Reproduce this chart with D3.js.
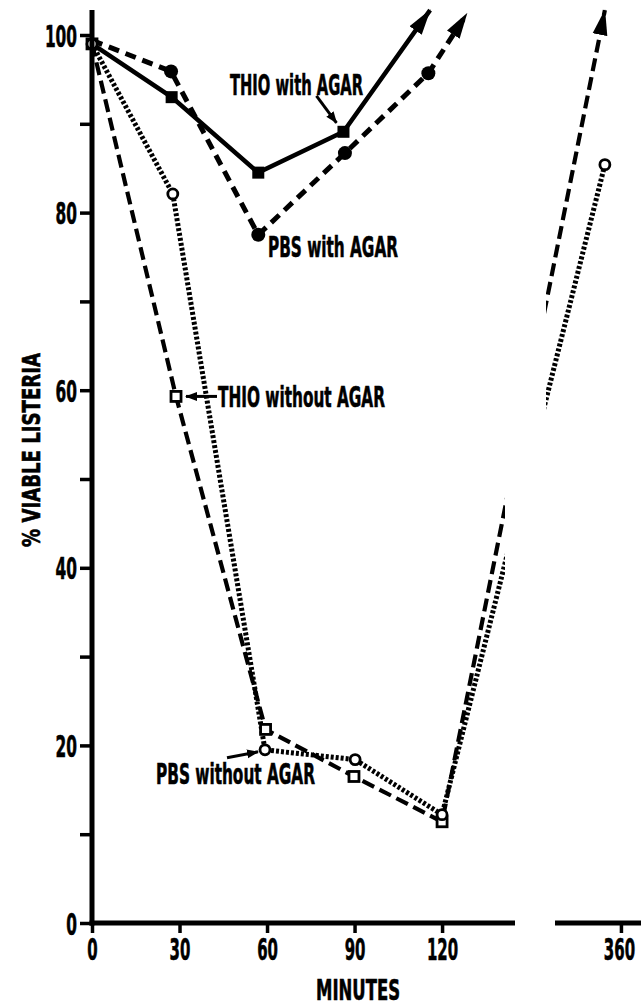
<!DOCTYPE html>
<html>
<head>
<meta charset="utf-8">
<script src="https://cdn.jsdelivr.net/npm/d3@7"></script>
<style>
  body { margin: 0; background: #fff; }
  svg text { font-family: "Liberation Sans Narrow", "DejaVu Sans Condensed", "Liberation Sans", sans-serif; font-weight: bold; fill: #000; stroke: #000; stroke-width: 0.6; }
</style>
</head>
<body>
<svg id="chart" width="641" height="1006"></svg>
<script>
// values (minutes, % viable)
var thioAgarMin = [0, 27.3, 57, 86.2];
var thioAgarPct = [99, 93.0, 84.5, 89.1];
var thioAgarArrow = [115.9, 102.8];

var pbsAgarMin = [0, 27.1, 57, 86.7, 115.3];
var pbsAgarPct = [99.4, 95.9, 77.5, 86.7, 95.7];
var pbsAgarArrow = [128.5, 102.4];

var thioNoAgarMin = [0, 28.8, 59.5, 89.8, 120];
var thioNoAgarPct = [99, 59.3, 21.8, 16.5, 11.4];
var thioNoAgarArrow = [354.4, 102.8];

var pbsNoAgarMin = [0, 27.7, 59.3, 90.2, 120, 354.4];
var pbsNoAgarPct = [99, 82.1, 19.5, 18.4, 12.2, 85.4];

var xTicks = [0, 30, 60, 90, 120, 360];
var yTicks = [0, 10, 20, 30, 40, 50, 60, 70, 80, 90, 100];

var svg = d3.select('#chart');

// broken time axis: 0-145 then 337-367
var x = d3.scaleLinear().domain([0, 145, 337, 367]).range([92, 515, 555, 641]);
var y = d3.scaleLinear().domain([0, 100]).range([923, 35]);

function zip(ts, vs) {
  return ts.map(function(t, i) { return [t, vs[i]]; });
}

// arrow heads
var defs = svg.append('defs');
defs.append('marker')
    .attr('id', 'bigHead')
    .attr('markerUnits', 'userSpaceOnUse')
    .attr('viewBox', '0 -8 26 16')
    .attr('markerWidth', 26).attr('markerHeight', 16)
    .attr('refX', 25).attr('refY', 0)
    .attr('orient', 'auto')
  .append('path').attr('d', 'M0,-7.5L26,0L0,7.5Z').attr('fill', '#000');
defs.append('marker')
    .attr('id', 'smallHead')
    .attr('markerUnits', 'userSpaceOnUse')
    .attr('viewBox', '0 -5 12 10')
    .attr('markerWidth', 12).attr('markerHeight', 10)
    .attr('refX', 11).attr('refY', 0)
    .attr('orient', 'auto')
  .append('path').attr('d', 'M0,-4.5L12,0L0,4.5Z').attr('fill', '#000');

// gap at the axis break
var clip = defs.append('clipPath').attr('id', 'breakClip');
clip.append('rect').attr('x', 0).attr('y', 0).attr('width', 505).attr('height', 1006);
clip.append('rect').attr('x', 546).attr('y', 0).attr('width', 100).attr('height', 1006);

var line = d3.line()
    .x(function(d) { return x(d[0]); })
    .y(function(d) { return y(d[1]); });

var plot = svg.append('g');

// THIO with AGAR: solid
plot.append('path')
    .attr('d', line(zip(thioAgarMin, thioAgarPct).concat([thioAgarArrow])))
    .attr('fill', 'none').attr('stroke', '#000').attr('stroke-width', 4.5)
    .attr('marker-end', 'url(#bigHead)');

// PBS with AGAR: dashed
plot.append('path')
    .attr('d', line(zip(pbsAgarMin, pbsAgarPct).concat([pbsAgarArrow])))
    .attr('fill', 'none').attr('stroke', '#000').attr('stroke-width', 5)
    .attr('stroke-dasharray', '11,7')
    .attr('marker-end', 'url(#bigHead)');

// THIO without AGAR: long dashes
plot.append('path')
    .attr('d', line(zip(thioNoAgarMin, thioNoAgarPct).concat([thioNoAgarArrow])))
    .attr('fill', 'none').attr('stroke', '#000').attr('stroke-width', 4.2)
    .attr('stroke-dasharray', '13,6')
    .attr('clip-path', 'url(#breakClip)')
    .attr('marker-end', 'url(#bigHead)');

// PBS without AGAR: dotted
plot.append('path')
    .attr('d', line(zip(pbsNoAgarMin, pbsNoAgarPct)))
    .attr('fill', 'none').attr('stroke', '#000').attr('stroke-width', 5)
    .attr('stroke-dasharray', '3,2')
    .attr('clip-path', 'url(#breakClip)');

// markers
plot.selectAll('rect.thioAgar')
    .data(zip(thioAgarMin, thioAgarPct).slice(1))
  .enter().append('rect')
    .attr('class', 'thioAgar')
    .attr('x', function(d) { return x(d[0]) - 6; })
    .attr('y', function(d) { return y(d[1]) - 6; })
    .attr('width', 12).attr('height', 12)
    .attr('fill', '#000');

plot.selectAll('circle.pbsAgar')
    .data(zip(pbsAgarMin, pbsAgarPct).slice(1))
  .enter().append('circle')
    .attr('class', 'pbsAgar')
    .attr('cx', function(d) { return x(d[0]); })
    .attr('cy', function(d) { return y(d[1]); })
    .attr('r', 7)
    .attr('fill', '#000');

plot.selectAll('rect.thioNo')
    .data(zip(thioNoAgarMin, thioNoAgarPct))
  .enter().append('rect')
    .attr('class', 'thioNo')
    .attr('x', function(d) { return x(d[0]) - 5; })
    .attr('y', function(d) { return y(d[1]) - 5; })
    .attr('width', 10).attr('height', 10)
    .attr('fill', '#fff').attr('stroke', '#000').attr('stroke-width', 2.8);

plot.selectAll('circle.pbsNo')
    .data(zip(pbsNoAgarMin, pbsNoAgarPct))
  .enter().append('circle')
    .attr('class', 'pbsNo')
    .attr('cx', function(d) { return x(d[0]); })
    .attr('cy', function(d) { return y(d[1]); })
    .attr('r', 5)
    .attr('fill', '#fff').attr('stroke', '#000').attr('stroke-width', 2.8);

// axes
var axisG = svg.append('g');
axisG.append('line')
    .attr('x1', x(0)).attr('x2', x(0))
    .attr('y1', 10).attr('y2', y(0) + 2.5)
    .attr('stroke', '#000').attr('stroke-width', 5);
axisG.append('line')
    .attr('x1', x(0) - 2.5).attr('x2', x(145))
    .attr('y1', y(0)).attr('y2', y(0))
    .attr('stroke', '#000').attr('stroke-width', 5);
axisG.append('line')
    .attr('x1', x(337)).attr('x2', 641)
    .attr('y1', y(0)).attr('y2', y(0))
    .attr('stroke', '#000').attr('stroke-width', 5);

var yAxis = svg.append('g')
    .attr('transform', 'translate(' + x(0) + ',0)')
    .call(d3.axisLeft(y).tickValues(yTicks).tickSize(12).tickPadding(3)
      .tickFormat(function(d) { return d % 20 === 0 ? d : ''; }));
yAxis.select('.domain').remove();
yAxis.selectAll('.tick line').attr('stroke', '#000').attr('stroke-width', 3.5);
yAxis.selectAll('.tick text')
    .attr('font-size', 31)
    .attr('dy', '0.36em')
    .each(function(d) {
      var s = d % 20 === 0 ? String(d) : '';
      if (s) d3.select(this).attr('textLength', s.length * 10.7).attr('lengthAdjust', 'spacingAndGlyphs');
    });

var xAxis = svg.append('g')
    .attr('transform', 'translate(0,' + y(0) + ')')
    .call(d3.axisBottom(x).tickValues(xTicks).tickSize(10).tickPadding(5).tickFormat(d3.format('d')));
xAxis.select('.domain').remove();
xAxis.selectAll('.tick line').attr('stroke', '#000').attr('stroke-width', 3.5);
xAxis.selectAll('.tick text')
    .attr('font-size', 31)
    .each(function(d) {
      var s = String(d);
      d3.select(this).attr('textLength', s.length * 10.4).attr('lengthAdjust', 'spacingAndGlyphs');
      if (d === 360) d3.select(this).attr('dx', -2);
    });

// axis titles
svg.append('text')
    .attr('x', 358).attr('y', 1000)
    .attr('text-anchor', 'middle')
    .attr('font-size', 28)
    .attr('textLength', 84).attr('lengthAdjust', 'spacingAndGlyphs')
    .text('MINUTES');

svg.append('text')
    .attr('transform', 'translate(40,450) rotate(-90)')
    .attr('text-anchor', 'middle')
    .attr('font-size', 25)
    .attr('textLength', 194).attr('lengthAdjust', 'spacingAndGlyphs')
    .text('% VIABLE LISTERIA');

// series labels
function label(txt, lx, by, w) {
  svg.append('text')
      .attr('x', lx).attr('y', by)
      .attr('font-size', 29)
      .attr('textLength', w).attr('lengthAdjust', 'spacingAndGlyphs')
      .text(txt);
}
label('THIO with AGAR', 230, 95, 133);
label('PBS with AGAR', 268, 257, 130);
label('THIO without AGAR', 218, 407, 167);
label('PBS without AGAR', 156, 784, 159);

// pointers from labels to their points
function pointer(pt, dx0, dy0, dx1, dy1) {
  var px = x(pt[0]), py = y(pt[1]);
  svg.append('line')
      .attr('x1', px + dx0).attr('y1', py + dy0)
      .attr('x2', px + dx1).attr('y2', py + dy1)
      .attr('stroke', '#000').attr('stroke-width', 3)
      .attr('marker-end', 'url(#smallHead)');
}
pointer([thioAgarMin[3], thioAgarPct[3]], -27, -36, -7, -9);
pointer([thioNoAgarMin[1], thioNoAgarPct[1]], 41, 0, 10, 0);
pointer([pbsNoAgarMin[2], pbsNoAgarPct[2]], -38, 8, -7, 2);
</script>
</body>
</html>
